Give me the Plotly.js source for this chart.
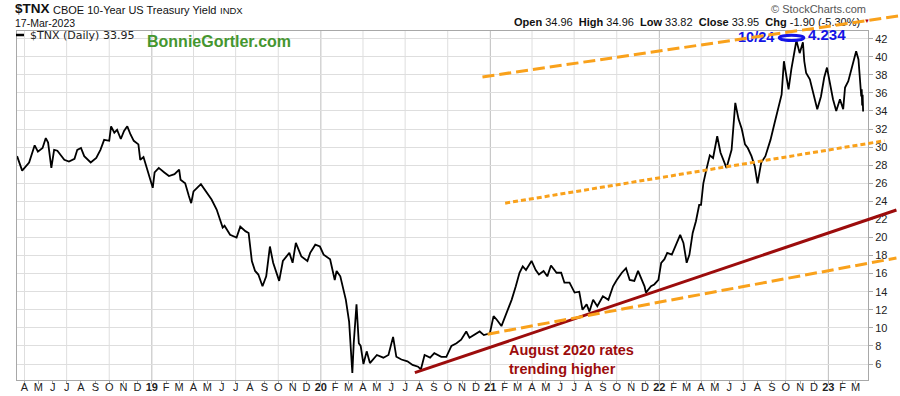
<!DOCTYPE html>
<html><head><meta charset="utf-8">
<script src="https://cdn.plot.ly/plotly-3.0.1.min.js"></script>
<style>html,body{margin:0;padding:0;background:#fff;}#chart{width:900px;height:396px;}</style>
</head><body><div id="chart"></div>
<script>
// ---- data (TNX = 10-year yield x 10) ----
const dates = [
'2018-03-16','2018-03-27','2018-04-11','2018-04-18','2018-04-23','2018-04-30','2018-05-10','2018-05-17','2018-05-22','2018-05-29',
'2018-06-04','2018-06-11','2018-06-26','2018-07-06','2018-07-18','2018-07-24','2018-08-01','2018-08-08','2018-08-22','2018-09-03',
'2018-09-12','2018-09-20','2018-10-01','2018-10-05','2018-10-12','2018-10-18','2018-10-26','2018-11-02','2018-11-09','2018-11-16',
'2018-11-23','2018-12-03','2018-12-07','2018-12-14','2018-12-21','2019-01-03','2019-01-07','2019-01-16','2019-01-28','2019-02-07',
'2019-02-19','2019-03-01','2019-03-04','2019-03-14','2019-03-22','2019-03-27','2019-04-01','2019-04-17','2019-05-10','2019-05-21',
'2019-06-03','2019-06-07','2019-06-19','2019-07-03','2019-07-11','2019-07-22','2019-07-29','2019-08-05','2019-08-12','2019-08-19',
'2019-08-28','2019-09-05','2019-09-13','2019-09-20','2019-10-03','2019-10-11','2019-10-25','2019-11-01','2019-11-08','2019-11-20',
'2019-12-03','2019-12-09','2019-12-20','2019-12-30','2020-01-07','2020-01-21','2020-01-31','2020-02-04','2020-02-12','2020-02-24',
'2020-03-02','2020-03-09','2020-03-12','2020-03-18','2020-03-23','2020-03-27','2020-04-02','2020-04-09','2020-04-16','2020-05-01',
'2020-05-15','2020-05-26','2020-06-05','2020-06-12','2020-06-23','2020-07-06','2020-07-17','2020-07-29','2020-08-04','2020-08-12',
'2020-08-24','2020-09-02','2020-09-17','2020-09-28','2020-10-09','2020-10-20','2020-10-30','2020-11-10','2020-11-17','2020-11-27',
'2020-12-09','2020-12-18','2020-12-31','2021-01-08','2021-01-15','2021-01-25','2021-02-05','2021-02-16','2021-02-25','2021-03-05',
'2021-03-12','2021-03-19','2021-03-31','2021-04-09','2021-04-16','2021-04-26','2021-05-04','2021-05-12','2021-05-24','2021-06-03',
'2021-06-10','2021-06-21','2021-07-02','2021-07-12','2021-07-19','2021-07-28','2021-08-03','2021-08-11','2021-08-20','2021-09-01',
'2021-09-13','2021-09-23','2021-10-01','2021-10-12','2021-10-21','2021-10-29','2021-11-08','2021-11-16','2021-11-30','2021-12-03',
'2021-12-14','2021-12-21','2021-12-30','2022-01-05','2022-01-12','2022-01-18','2022-01-28','2022-02-08','2022-02-15','2022-02-22',
'2022-03-01','2022-03-07','2022-03-14','2022-03-21','2022-03-28','2022-04-01','2022-04-06','2022-04-12','2022-04-20','2022-04-27',
'2022-05-06','2022-05-13','2022-05-20','2022-05-26','2022-06-06','2022-06-14','2022-06-21','2022-06-28','2022-07-05','2022-07-11',
'2022-07-19','2022-07-26','2022-08-01','2022-08-09','2022-08-18','2022-08-29','2022-09-07','2022-09-16','2022-09-22','2022-09-27',
'2022-10-03','2022-10-07','2022-10-13','2022-10-18','2022-10-24','2022-10-31','2022-11-07','2022-11-10','2022-11-14','2022-11-22',
'2022-12-02','2022-12-08','2022-12-16','2022-12-23','2022-12-29','2023-01-04','2023-01-11','2023-01-18','2023-01-26','2023-02-02',
'2023-02-06','2023-02-13','2023-02-21','2023-02-24','2023-03-02','2023-03-07','2023-03-10','2023-03-13','2023-03-14','2023-03-15',
'2023-03-16','2023-03-17'];
const tnx = [
29.0,27.4,28.3,29.4,30.2,29.5,29.9,31.0,30.5,27.7,
29.7,29.6,28.6,28.4,28.7,29.7,29.9,29.0,28.3,28.8,
29.7,30.8,30.7,32.3,31.6,31.9,30.9,31.8,32.3,31.4,
30.7,30.3,28.6,28.9,27.7,25.5,27.2,27.7,27.2,26.8,
27.0,27.5,26.4,26.0,24.6,23.8,25.1,25.9,24.2,23.1,
21.1,21.3,20.3,20.0,21.2,20.7,20.5,17.4,16.3,15.9,
14.6,15.7,19.0,17.2,15.2,17.4,18.3,17.2,19.4,17.9,
17.4,18.3,19.2,19.0,18.1,17.6,15.3,16.3,15.7,13.1,
10.7,5.0,8.3,12.6,8.3,8.0,6.0,7.4,6.1,7.0,
6.7,7.0,9.0,6.8,6.5,6.3,5.9,5.7,5.4,7.0,
6.7,7.2,6.8,6.8,8.0,8.3,8.7,9.6,8.9,9.2,
9.6,9.2,9.4,11.3,10.9,10.2,11.7,13.1,14.6,16.1,
16.8,16.4,17.4,16.4,15.9,16.3,15.7,16.9,16.1,16.1,
15.0,15.0,13.9,14.0,12.0,12.6,11.8,13.1,12.4,13.5,
13.1,14.6,15.3,16.1,16.6,15.3,15.2,16.3,14.6,13.9,
14.6,14.8,15.3,17.2,17.6,18.3,18.1,19.4,20.3,19.4,
17.2,18.1,20.5,21.8,23.6,23.6,26.0,27.4,29.1,28.8,
31.2,29.4,28.4,27.7,29.7,34.9,33.1,32.0,30.3,29.9,
29.0,27.9,26.0,28.3,29.0,30.8,32.7,34.5,35.8,39.5,
37.9,36.4,38.6,40.1,41.8,40.4,41.6,39.5,38.2,37.5,
35.3,34.2,35.6,37.7,38.8,37.1,35.3,34.0,35.3,34.2,
36.6,37.3,39.0,39.5,40.6,39.7,37.9,35.6,36.4,34.6,
35.8,33.95];

// trend lines drawn on the chart (start/end date and value)
const trendStartDate = ['2020-12-15','2021-02-02','2020-07-22','2020-12-26'];
const trendStartVal  = [37.77, 23.8, 5.04, 9.3];
const trendEndDate   = ['2023-06-03','2023-05-02','2023-05-28','2023-05-28'];
const trendEndVal    = [44.52, 30.7, 23.04, 17.73];

// peak highlight (10/24 high 4.234)
const peakBoxDates = ['2022-09-17','2022-11-09'];
const peakBoxVals  = [41.79, 42.39];

// axis ticks
const monthLetters = ['J','F','M','A','M','J','J','A','S','O','N','D'];
const yearLabels = {2019:'19',2020:'20',2021:'21',2022:'22',2023:'23'};
const yearLines = ['2019-01-01','2020-01-01','2021-01-01','2022-01-01','2023-01-01'];
const quarterLines = ['2018-04-01','2018-07-01','2018-10-01','2019-04-01','2019-07-01','2019-10-01',
 '2020-04-01','2020-07-01','2020-10-01','2021-04-01','2021-07-01','2021-10-01',
 '2022-04-01','2022-07-01','2022-10-01'];

const tickvals = [], ticktext = [];
for (let y = 2018; y <= 2023; y++) {
  for (let m = 0; m < 12; m++) {
    if (y === 2018 && m < 3) continue;
    if (y === 2023 && m > 2) break;
    tickvals.push(y + '-' + String(m + 1).padStart(2, '0') + '-01');
    ticktext.push(m === 0 ? '<b>' + yearLabels[y] + '</b>' : monthLetters[m]);
  }
}

// ---- layout helpers ----
const W = 900, H = 396, M = {l:17, r:32, t:31, b:16};
const PW = W - M.l - M.r, PH = H - M.t - M.b;
const px = x => (x - M.l) / PW;
const py = y => (H - M.b - y) / PH;
const FONT = 'Arial, "Liberation Sans", sans-serif';
const ORANGE = '#f9a11b', DARKRED = '#9c0c0c', BLUE = '#1414e6';

function ann(x, y, text, size, opts) {
  return Object.assign({xref:'paper', yref:'paper', x:px(x), y:py(y), text:text, showarrow:false,
    xanchor:'left', yanchor:'middle', font:{family:FONT, size:size, color:'#111'}}, opts || {});
}

const shapes = [];
quarterLines.forEach(d => shapes.push({type:'line', xref:'x', yref:'paper', x0:d, x1:d, y0:0, y1:1,
  layer:'below', line:{color:'#dedede', width:1}}));
yearLines.forEach(d => shapes.push({type:'line', xref:'x', yref:'paper', x0:d, x1:d, y0:0, y1:1,
  layer:'below', line:{color:'#bdbdbd', width:1}}));
const trendStyle = [
  {color:ORANGE, width:3, dash:'12px,5px'},
  {color:ORANGE, width:3, dash:'5px,3px'},
  {color:DARKRED, width:3, dash:'solid'},
  {color:ORANGE, width:3, dash:'12px,5px'}
];
for (let i = 0; i < trendStartDate.length; i++) {
  shapes.push({type:'line', xref:'x', yref:'y', x0:trendStartDate[i], y0:trendStartVal[i],
    x1:trendEndDate[i], y1:trendEndVal[i], layer:'above', line:trendStyle[i]});
}
shapes.push({type:'circle', xref:'x', yref:'y', x0:peakBoxDates[0], x1:peakBoxDates[1],
  y0:peakBoxVals[0], y1:peakBoxVals[1], layer:'above', line:{color:BLUE, width:3}});
// legend swatch
shapes.push({type:'line', xref:'paper', yref:'paper', x0:px(16), x1:px(24), y0:py(35), y1:py(35),
  line:{color:'#000', width:2.5}});

const annotations = [
  ann(13, 9, '<b>$TNX</b>', 13.5),
  ann(51, 10, 'CBOE 10-Year US Treasury Yield', 11),
  ann(218, 10.5, 'INDX', 9.5),
  ann(13, 23, '17-Mar-2023', 10.5),
  ann(28, 36, '$TNX (Daily) 33.95', 11, {font:{family:'"DejaVu Sans", sans-serif', size:11, color:'#222'}}),
  ann(145, 41, '<b>BonnieGortler.com</b>', 16, {font:{family:FONT, size:16, color:'#45962f'}}),
  ann(868, 9, '\u00a9 StockCharts.com', 11, {xanchor:'right', font:{family:FONT, size:11, color:'#555'}}),
  ann(862, 22, '<b>Open</b> 34.96  <b>High</b> 34.96  <b>Low</b> 33.82  <b>Close</b> 33.95  <b>Chg</b> -1.90 (-5.30%)', 11, {xanchor:'right'}),
  ann(862, 21, '\u25BC', 6, {font:{family:FONT, size:6, color:'#b00000'}}),
  ann(736, 37.5, '<b>10/24</b>', 14.5, {font:{family:FONT, size:14.5, color:BLUE}}),
  ann(806, 35, '<b>4.234</b>', 15, {font:{family:FONT, size:15, color:BLUE}}),
  ann(507, 359, '<b>August 2020 rates<br>trending higher</b>', 14.5, {align:'left', font:{family:FONT, size:14.5, color:DARKRED}})
];

const data = [{
  type:'scatter', mode:'lines', x:dates, y:tnx, line:{color:'#000', width:1.8}, hoverinfo:'skip', showlegend:false
}];

const layout = {
  width:W, height:H, margin:M, paper_bgcolor:'#fff', plot_bgcolor:'#fff', showlegend:false,
  font:{family:FONT, size:11, color:'#222'},
  xaxis:{type:'date', range:['2018-03-15 20:00','2023-03-27 14:00'], tickmode:'array', tickvals:tickvals, ticktext:ticktext,
    ticks:'outside', ticklen:3, tickcolor:'#aaa', ticklabelstandoff:-6, showgrid:false, zeroline:false,
    showline:true, linecolor:'#a8a8a8', mirror:true, tickfont:{family:FONT, size:11, color:'#222'}},
  yaxis:{side:'right', range:[4.23, 42.85], tickmode:'linear', tick0:0, dtick:2, ticks:'outside', ticklen:4,
    tickcolor:'#aaa', showgrid:true, gridcolor:'#dedede', zeroline:false, showline:true, linecolor:'#a8a8a8', mirror:true,
    tickfont:{family:FONT, size:11, color:'#222'}},
  shapes:shapes, annotations:annotations
};

function unclip(gd) {
  // let the hand-drawn trend lines run past the plot edge, as in the original
  gd.querySelectorAll('.layer-above [clip-path], .layer-above .shapelayer *').forEach(function(el){
    el.removeAttribute('clip-path');
  });
  const above = gd.querySelector('.layer-above');
  if (above && above.parentNode) above.parentNode.appendChild(above);
}
Plotly.newPlot('chart', data, layout, {staticPlot:true, displayModeBar:false}).then(unclip);
</script></body></html>
